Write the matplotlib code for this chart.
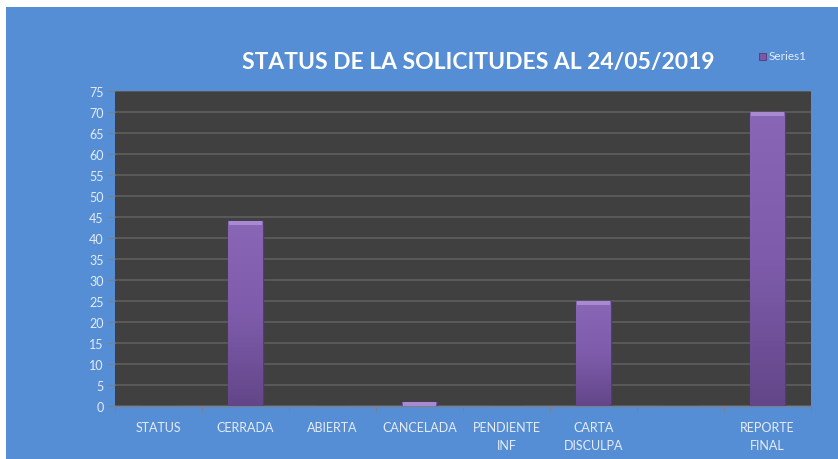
import matplotlib.pyplot as plt
import matplotlib.patches as mpatches
from matplotlib.colors import LinearSegmentedColormap
import numpy as np

# chart data
categories = ['STATUS', 'CERRADA', 'ABIERTA', 'CANCELADA', 'PENDIENTE\nINF',
              'CARTA\nDISCULPA', '', 'REPORTE\nFINAL']
values = [0, 44, 0, 1, 0, 25, 0, 70]
title = 'STATUS DE LA SOLICITUDES AL 24/05/2019'
series_name = 'Series1'

bg_blue = '#558ED5'
plot_bg = '#404040'
grid_col = '#5F5F5F'
txt_col = '#E6ECF5'
bar_col = '#7A58A5'
bar_edge = '#553A7A'
cap_col = '#A88AD2'

plt.rcParams['font.family'] = ['Lato', 'DejaVu Sans']

fig = plt.figure(figsize=(8.38, 4.6), dpi=100, facecolor='white')
# blue chart background, leaving the thin white border top and left
fig.add_artist(mpatches.Rectangle((6 / 838, 0), 1, 1 - 8 / 460,
                                  transform=fig.transFigure,
                                  facecolor=bg_blue, edgecolor='none', zorder=-10))

ax = fig.add_axes([115 / 838, 1 - 407 / 460, 696 / 838, 315 / 460])
ax.set_facecolor(plot_bg)

x = np.arange(len(categories))
bars = ax.bar(x, values, width=0.4, color=bar_col, edgecolor=bar_edge,
              linewidth=1.0, zorder=3)

# vertical gradient fill, lighter at the top
grad_cmap = LinearSegmentedColormap.from_list('bar', ['#634689', '#7E5CAB', '#8966B6'])
grad = np.linspace(0, 1, 256).reshape(-1, 1)
for b in bars:
    h = b.get_height()
    if h <= 0:
        continue
    x0 = b.get_x()
    w = b.get_width()
    im = ax.imshow(grad, cmap=grad_cmap, aspect='auto', origin='lower',
                   extent=(x0, x0 + w, 0, h), zorder=3.5)
    im.set_clip_path(b)
    ax.bar(x0 + w / 2, min(0.9, h), bottom=h - min(0.9, h), width=w * 0.92,
           color=cap_col, edgecolor='none', zorder=4)

ax.set_xlim(-0.5, len(categories) - 0.5)
ax.set_ylim(0, 75)
ax.set_yticks(np.arange(0, 76, 5))
ax.yaxis.grid(True, color=grid_col, linewidth=1.2, zorder=1)
ax.set_axisbelow(True)

ax.set_xticks(x)
ax.set_xticklabels(categories, color=txt_col, fontsize=9, linespacing=1.6)
ax.set_xticks(np.arange(-0.5, len(categories), 1), minor=True)
ax.tick_params(axis='x', which='major', length=0, pad=11)
ax.tick_params(axis='x', which='minor', length=4, color='#7F7F7F')
ax.tick_params(axis='y', length=5, color='#7F7F7F', labelcolor=txt_col,
               labelsize=9, pad=3)

for side in ['top', 'right', 'left']:
    ax.spines[side].set_visible(False)
ax.spines['bottom'].set_color('#7F7F7F')

fig.text(478 / 838, 1 - 62 / 460, title, ha='center', va='center',
         fontsize=16.5, fontweight='bold', color='white')

# legend
fig.add_artist(mpatches.Rectangle((759 / 838, 1 - 61 / 460), 7 / 838, 7 / 460,
                                  transform=fig.transFigure, facecolor=bar_col,
                                  edgecolor=bar_edge, linewidth=0.6))
fig.text(769 / 838, 1 - 57 / 460, series_name, ha='left', va='center',
         fontsize=8.5, color=txt_col)

fig.savefig('out.png', dpi=100, facecolor=fig.get_facecolor())
